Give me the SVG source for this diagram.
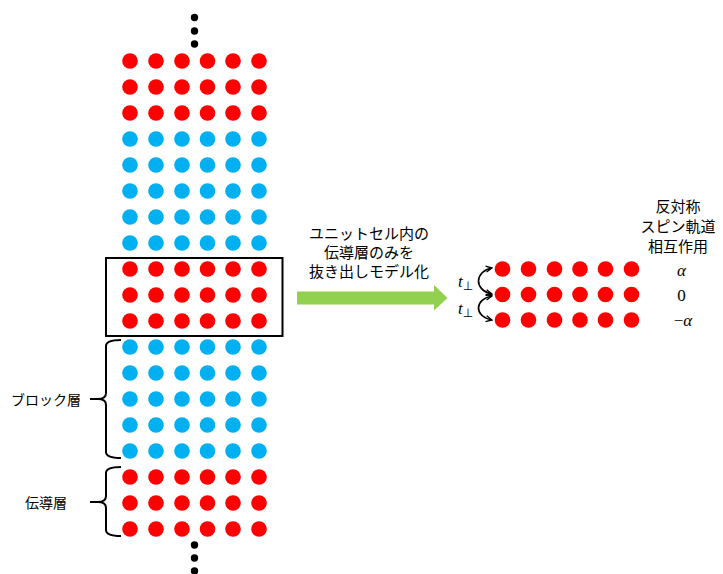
<svg xmlns="http://www.w3.org/2000/svg" width="723" height="574" viewBox="0 0 723 574">
<style>
.r{fill:#FF0000}
.b{fill:#00B0F0}
.k{fill:#000}
.jp{font-family:"Noto Sans CJK JP","Noto Sans CJK SC",sans-serif;font-size:15px;fill:#000;text-anchor:middle;dominant-baseline:central}
.m{font-family:"Liberation Serif",serif;font-size:17px;fill:#000;text-anchor:middle;dominant-baseline:central}
.br{fill:none;stroke:#000;stroke-width:2}
.curve{fill:none;stroke:#000;stroke-width:1.7;marker-start:url(#ah);marker-end:url(#ah)}
</style>
<defs>
<g id="rowR"><circle class="r" cx="130" cy="0" r="7.8"/><circle class="r" cx="156" cy="0" r="7.8"/><circle class="r" cx="182" cy="0" r="7.8"/><circle class="r" cx="207.5" cy="0" r="7.8"/><circle class="r" cx="233" cy="0" r="7.8"/><circle class="r" cx="259" cy="0" r="7.8"/></g>
<g id="rowB"><circle class="b" cx="130" cy="0" r="7.8"/><circle class="b" cx="156" cy="0" r="7.8"/><circle class="b" cx="182" cy="0" r="7.8"/><circle class="b" cx="207.5" cy="0" r="7.8"/><circle class="b" cx="233" cy="0" r="7.8"/><circle class="b" cx="259" cy="0" r="7.8"/></g>
<marker id="ah" viewBox="0 0 10 10" refX="9" refY="5" markerWidth="7.5" markerHeight="7.5" orient="auto-start-reverse" markerUnits="userSpaceOnUse">
<path d="M1,1 L9,5 L1,9" fill="none" stroke="#000" stroke-width="1.8"/>
</marker>
</defs>
<rect width="723" height="574" fill="#fff"/>

<g id="stack">
<circle class="k" cx="194.5" cy="17.5" r="3.7"/>
<circle class="k" cx="194.5" cy="31" r="3.7"/>
<circle class="k" cx="194.5" cy="44" r="3.7"/>
<use href="#rowR" y="61"/>
<use href="#rowR" y="87"/>
<use href="#rowR" y="113"/>
<use href="#rowB" y="139"/>
<use href="#rowB" y="165"/>
<use href="#rowB" y="191"/>
<use href="#rowB" y="217"/>
<use href="#rowB" y="243"/>
<use href="#rowR" y="269"/>
<use href="#rowR" y="295"/>
<use href="#rowR" y="321"/>
<use href="#rowB" y="347"/>
<use href="#rowB" y="373"/>
<use href="#rowB" y="399"/>
<use href="#rowB" y="425"/>
<use href="#rowB" y="451"/>
<use href="#rowR" y="477"/>
<use href="#rowR" y="503"/>
<use href="#rowR" y="529"/>
<circle class="k" cx="194.5" cy="545" r="3.7"/>
<circle class="k" cx="194.5" cy="558" r="3.7"/>
<circle class="k" cx="194.5" cy="571" r="3.7"/>
</g>

<g id="unitcell">
<rect x="106" y="258" width="176.5" height="78" fill="none" stroke="#000" stroke-width="2"/>
</g>

<g id="block-layer">
<path class="br" d="M121,340 Q106,340 106,346 L106,393 Q106,399 98,399 L90,399 L98,399 Q106,399 106,405 L106,452 Q106,458 121,458"/>
<text class="jp" x="46" y="399" style="font-size:14px">ブロック層</text>
</g>

<g id="conduction-layer">
<path class="br" d="M121,467 Q106,467 106,473 L106,496 Q106,502 98,502 L90,502 L98,502 Q106,502 106,508 L106,530 Q106,536 121,536"/>
<text class="jp" x="46" y="502" style="font-size:14px">伝導層</text>
</g>

<g id="extract-arrow">
<polygon points="297,291.5 434,291.5 434,285 447.5,298 434,310.5 434,304.5 297,304.5" fill="#92D050"/>
<text class="jp" x="369" y="232">ユニットセル内の</text>
<text class="jp" x="369" y="251">伝導層のみを</text>
<text class="jp" x="369" y="270">抜き出しモデル化</text>
</g>

<g id="model">
<use href="#rowR" x="372.5" y="269"/>
<use href="#rowR" x="372.5" y="294.5"/>
<use href="#rowR" x="372.5" y="320"/>
</g>

<g id="soc-labels">
<text class="jp" x="678" y="205">反対称</text>
<text class="jp" x="678" y="225">スピン軌道</text>
<text class="jp" x="678" y="245">相互作用</text>
<text class="m" x="681.5" y="270" font-style="italic">α</text>
<text class="m" x="681.5" y="295">0</text>
<text class="m" x="683" y="320">−<tspan font-style="italic">α</tspan></text>
</g>

<g id="connectors">
<path class="curve" d="M492,268 C475,271 473,290 492,294"/>
<path class="curve" d="M492,296 C475,299 473,316 492,320"/>
</g>

<g id="hopping-labels">
<text x="458" y="287" font-family="Liberation Serif,serif" font-size="17" font-style="italic">t<tspan font-style="normal" font-size="12" dy="3" font-family="DejaVu Sans,sans-serif">⊥</tspan></text>
<text x="458" y="314" font-family="Liberation Serif,serif" font-size="17" font-style="italic">t<tspan font-style="normal" font-size="12" dy="3" font-family="DejaVu Sans,sans-serif">⊥</tspan></text>
</g>
</svg>
